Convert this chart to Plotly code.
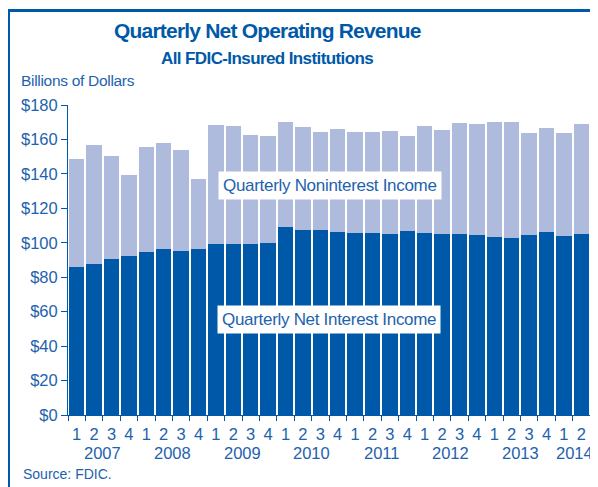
import plotly.graph_objects as go

quarters = ["1", "2", "3", "4"] * 7 + ["1", "2"]
years = ["2007", "2008", "2009", "2010", "2011", "2012", "2013", "2014"]
net_interest = [86.0, 87.8, 90.7, 92.6, 94.8, 96.5, 95.4, 96.5,
                99.4, 99.4, 99.4, 100.0, 109.3, 107.6, 107.6, 106.4,
                105.8, 105.8, 105.2, 107.0, 105.8, 105.2, 105.2, 104.7,
                103.5, 103.0, 104.7, 106.4, 104.1, 105.2]
noninterest = [62.4, 68.7, 59.4, 47.0, 60.6, 61.2, 58.2, 40.8,
               68.8, 68.2, 62.9, 61.8, 61.1, 59.4, 56.5, 59.4,
               58.3, 58.3, 59.5, 54.8, 61.8, 60.1, 64.1, 64.0,
               66.9, 67.4, 58.8, 60.0, 59.4, 63.5]
y_ticks = [0, 20, 40, 60, 80, 100, 120, 140, 160, 180]
y_labels = ["$" + str(v) for v in y_ticks]

# the page body adds an 8px margin, so the figure is drawn 8px smaller
OFF = 8
W, H = 598 - OFF, 487 - OFF
L, R, T, B = 60, 8, 97, 72
PW, PH = W - L - R, H - T - B

def px(x):  # page pixel -> paper
    return (x - OFF - L) / PW

def py(y):
    return (H - B - (y - OFF)) / PH

DARK = "#0059A8"
LIGHT = "#AEBBDD"
TXT = "#1E62AD"
FONT = "Liberation Sans, Arial, sans-serif"

def ls(text, sp):
    return '<span style="letter-spacing:%spx">%s</span>' % (sp, text)

xs = list(range(len(quarters)))

fig = go.Figure()
fig.add_trace(go.Bar(x=xs, y=net_interest, marker=dict(color=DARK, line=dict(width=0)),
                     name="Quarterly Net Interest Income"))
fig.add_trace(go.Bar(x=xs, y=noninterest, marker=dict(color=LIGHT, line=dict(width=0)),
                     name="Quarterly Noninterest Income"))

annotations = []
for i, yr in enumerate(years):
    cx = 4 * i + 1.5 if i < 7 else 28.6
    annotations.append(dict(x=cx, xref="x", y=py(453), yref="paper", text=yr,
                            showarrow=False, xanchor="center", yanchor="middle",
                            font=dict(size=16.5, color=TXT, family=FONT)))

annotations += [
    dict(x=px(267), y=py(30), xref="paper", yref="paper",
         text="<b>" + ls("Quarterly Net Operating Revenue", -0.8) + "</b>",
         showarrow=False, xanchor="center", yanchor="middle",
         font=dict(size=21, color=DARK, family=FONT)),
    dict(x=px(267), y=py(58), xref="paper", yref="paper",
         text="<b>" + ls("All FDIC-Insured Institutions", -0.6) + "</b>",
         showarrow=False, xanchor="center", yanchor="middle",
         font=dict(size=17, color=DARK, family=FONT)),
    dict(x=px(19), y=py(80), xref="paper", yref="paper", text=ls("Billions of Dollars", -0.3),
         showarrow=False, xanchor="left", yanchor="middle",
         font=dict(size=15.5, color=TXT, family=FONT)),
    dict(x=px(21), y=py(474), xref="paper", yref="paper", text="Source: FDIC.",
         showarrow=False, xanchor="left", yanchor="middle",
         font=dict(size=14, color=TXT, family=FONT)),
    dict(x=14.55, y=133.5, xref="x", yref="y", text=ls("Quarterly Noninterest Income", -0.3),
         showarrow=False, xanchor="center", yanchor="middle", bgcolor="white", borderpad=4,
         font=dict(size=17, color=TXT, family=FONT)),
    dict(x=14.5, y=55.7, xref="x", yref="y", text=ls("Quarterly Net Interest Income", -0.3),
         showarrow=False, xanchor="center", yanchor="middle", bgcolor="white", borderpad=4,
         font=dict(size=17, color=TXT, family=FONT)),
]

shapes = [
    dict(type="line", xref="paper", yref="paper", x0=px(8.5), x1=px(610), y0=py(10.5), y1=py(10.5),
         line=dict(color=DARK, width=3)),
    dict(type="line", xref="paper", yref="paper", x0=px(8.5), x1=px(8.5), y0=py(9), y1=py(500),
         line=dict(color=DARK, width=3)),
]

fig.update_layout(
    width=W, height=H, margin=dict(l=L, r=R, t=T, b=B),
    barmode="stack", bargap=0.12, showlegend=False,
    paper_bgcolor="white", plot_bgcolor="white",
    font=dict(family=FONT, color=TXT),
    annotations=annotations, shapes=shapes,
    xaxis=dict(range=[-0.5, len(xs) - 0.5], tickmode="array", tickvals=xs, ticktext=quarters,
               ticks="outside", ticklen=4, tickcolor="rgba(0,0,0,0)",
               showgrid=False, zeroline=False, showline=True, linecolor=DARK, linewidth=1,
               tickfont=dict(size=16.5, color=TXT, family=FONT),
               minor=dict(tickmode="linear", tick0=-0.5, dtick=1, ticks="outside", ticklen=5,
                          tickcolor=DARK, tickwidth=1, showgrid=False)),
    yaxis=dict(range=[0, 180], tickmode="array", tickvals=y_ticks, ticktext=y_labels,
               ticks="outside", ticklen=6, tickcolor=DARK, tickwidth=1,
               showgrid=False, zeroline=False, showline=True, linecolor=DARK, linewidth=1,
               tickfont=dict(size=16.5, color=TXT, family=FONT)),
)

fig.write_html("out.html")
